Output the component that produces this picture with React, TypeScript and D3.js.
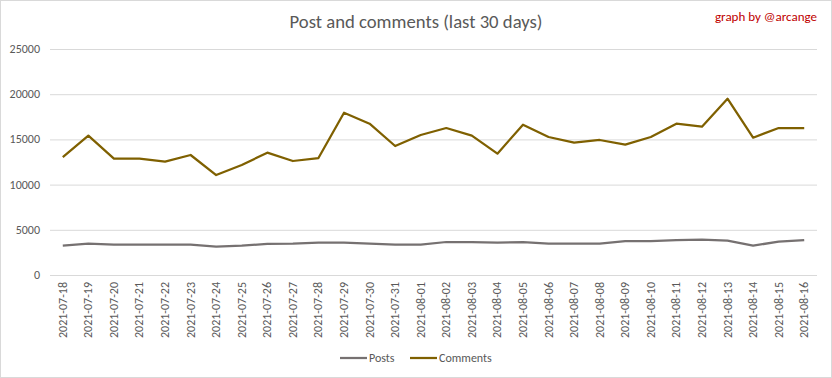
import React from "react";
import * as d3 from "d3";

const dates = [
  "2021-07-18","2021-07-19","2021-07-20","2021-07-21","2021-07-22","2021-07-23","2021-07-24","2021-07-25",
  "2021-07-26","2021-07-27","2021-07-28","2021-07-29","2021-07-30","2021-07-31","2021-08-01","2021-08-02",
  "2021-08-03","2021-08-04","2021-08-05","2021-08-06","2021-08-07","2021-08-08","2021-08-09","2021-08-10",
  "2021-08-11","2021-08-12","2021-08-13","2021-08-14","2021-08-15","2021-08-16",
];
const posts = [
  3245, 3465, 3355, 3355, 3355, 3355, 3135, 3245, 3430, 3465, 3575, 3575, 3465, 3355, 3355,
  3650, 3650, 3575, 3650, 3465, 3465, 3465, 3760, 3760, 3870, 3905, 3800, 3245, 3690, 3870,
];
const comments = [
  13050, 15410, 12870, 12870, 12535, 13275, 11060, 12170, 13530, 12610, 12940, 17950, 16740, 14270, 15490,
  16260, 15410, 13420, 16630, 15265, 14640, 14935, 14420, 15265, 16740, 16410, 19500, 15190, 16260, 16260,
];
const yTicks = [0, 5000, 10000, 15000, 20000, 25000];
const seriesNames = ["Posts", "Comments"];
const seriesColors = ["#767171", "#7F6000"];

const W = 832, H = 378;
const FONT = "Carlito, Calibri, 'Liberation Sans Narrow', 'Liberation Sans', sans-serif";

export default function App() {
  const x = d3.scaleBand<string>().domain(dates).range([50, 817]);
  const y = d3.scaleLinear().domain([0, 25000]).range([275, 49]);
  const cx = (d: string) => (x(d) ?? 0) + x.bandwidth() / 2;
  const line = d3.line<number>().x((_, i) => cx(dates[i])).y((v) => y(v));
  const series = [posts, comments];

  return (
    <svg width={W} height={H} style={{ position: "absolute", left: 0, top: 0, background: "#fff" }} fontFamily={FONT}>
      <rect x={0.5} y={0.5} width={W - 1} height={H - 1} fill="#fff" stroke="#D9D9D9" />
      <text x={416} y={28} textAnchor="middle" fontSize={19} fill="#595959" textLength={253} lengthAdjust="spacingAndGlyphs">
        Post and comments (last 30 days)
      </text>
      <text x={817} y={21} textAnchor="end" fontSize={13} fill="#C00000" textLength={102} lengthAdjust="spacingAndGlyphs">
        graph by @arcange
      </text>
      {yTicks.map((t) => (
        <g key={t}>
          <line x1={50} x2={817} y1={y(t) + 0.5} y2={y(t) + 0.5} stroke="#D9D9D9" strokeWidth={1} />
          <text x={40} y={y(t) + 4} textAnchor="end" fontSize={12} fill="#595959">{t}</text>
        </g>
      ))}
      {dates.map((d) => (
        <text key={d} transform={`translate(${cx(d) + 4},${282}) rotate(-90)`} textAnchor="end" fontSize={12} fill="#595959">
          {d}
        </text>
      ))}
      {series.map((s, i) => (
        <path key={i} d={line(s) ?? ""} fill="none" stroke={seriesColors[i]} strokeWidth={2.25} strokeLinejoin="round" />
      ))}
      {seriesNames.map((n, i) => {
        const lx = i === 0 ? 340 : 410;
        return (
          <g key={n}>
            <line x1={lx} x2={lx + 27} y1={358} y2={358} stroke={seriesColors[i]} strokeWidth={2.25} />
            <text x={lx + 29} y={362} fontSize={12} fill="#595959">{n}</text>
          </g>
        );
      })}
    </svg>
  );
}
